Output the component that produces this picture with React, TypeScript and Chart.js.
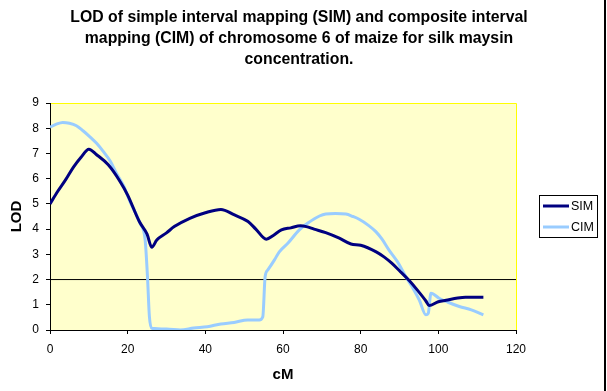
import React, { useEffect, useRef } from "react";
import { Chart, registerables } from "chart.js";

Chart.register(...registerables);

const TITLE_LINES = [
  "LOD of simple interval mapping (SIM) and composite interval",
  "mapping (CIM) of chromosome 6 of maize for silk maysin",
  "concentration.",
];
const X_TITLE = "cM";
const Y_TITLE = "LOD";
const SERIES_NAMES = ["SIM", "CIM"];

const SIM_CM = [0, 2, 4, 6, 8, 10, 12, 15, 18, 20, 23, 25, 26.2, 27.5, 30, 32, 36, 40, 44, 47.5, 51, 53, 55.7, 57.5, 59.6, 62, 64.5, 66, 68, 71, 74.5, 77.5, 80, 84, 86, 88, 90, 92.5, 94.5, 96.8, 97.6, 100, 102, 105, 107, 111.6];
const SIM_LOD = [5.0, 5.5, 5.95, 6.45, 6.85, 7.17, 6.95, 6.55, 5.9, 5.35, 4.3, 3.8, 3.28, 3.57, 3.85, 4.1, 4.43, 4.65, 4.78, 4.56, 4.3, 4.0, 3.6, 3.75, 3.97, 4.05, 4.13, 4.1, 4.0, 3.86, 3.64, 3.41, 3.36, 3.1, 2.9, 2.65, 2.35, 1.96, 1.6, 1.15, 0.97, 1.12, 1.18, 1.27, 1.3, 1.3];

const CIM_CM = [0, 1.5, 3.3, 5, 6.8, 8.5, 10.2, 12, 13.7, 15.5, 17.1, 19, 20.6, 22, 23.2, 24.5, 25.1, 25.6, 26.2, 30, 33.6, 37, 40.5, 44, 47.4, 50.9, 53.9, 54.8, 55.4, 56.1, 57.8, 59.05, 61.3, 64.2, 66.5, 69.4, 71, 73.5, 76.2, 78, 79.6, 82, 83.9, 85.5, 87.3, 89.5, 91.6, 93.5, 95.1, 96.8, 97.4, 98.1, 100.2, 102.5, 105.4, 108.5, 111.6];
const CIM_LOD = [8.04, 8.15, 8.23, 8.2, 8.1, 7.9, 7.67, 7.4, 7.08, 6.7, 6.22, 5.7, 5.09, 4.65, 4.23, 3.57, 2.12, 0.53, 0.07, 0.04, 0.0, 0.08, 0.13, 0.24, 0.3, 0.4, 0.4, 0.53, 2.12, 2.38, 2.78, 3.1, 3.45, 3.97, 4.25, 4.52, 4.6, 4.62, 4.6, 4.5, 4.39, 4.15, 3.9, 3.6, 3.17, 2.7, 2.12, 1.65, 1.19, 0.6, 0.66, 1.46, 1.26, 1.1, 0.93, 0.8, 0.6];

const THRESHOLD_CM = [0, 120];
const THRESHOLD_LOD = [2, 2];

const X_MIN = 0, X_MAX = 120, X_STEP = 20;
const Y_MIN = 0, Y_MAX = 9, Y_STEP = 1;

const SIM_COLOR = "#000080";
const CIM_COLOR = "#99CCFF";
const FONT = "'Liberation Sans', Arial, sans-serif";

const toPoints = (xs: number[], ys: number[]) => xs.map((x, i) => ({ x, y: ys[i] }));

const decorPlugin = {
  id: "decor",
  beforeDraw(chart: any) {
    const { ctx, chartArea: a } = chart;
    ctx.save();
    ctx.fillStyle = "#FFFFCC";
    ctx.fillRect(a.left, a.top, a.right - a.left, a.bottom - a.top);
    ctx.strokeStyle = "#FFFF00";
    ctx.lineWidth = 1;
    ctx.beginPath();
    ctx.moveTo(a.left, a.top + 0.5);
    ctx.lineTo(a.right + 0.5, a.top + 0.5);
    ctx.lineTo(a.right + 0.5, a.bottom);
    ctx.stroke();
    ctx.restore();
  },
  afterDraw(chart: any) {
    const { ctx, chartArea: a } = chart;
    ctx.save();
    ctx.fillStyle = "#000";
    ctx.textAlign = "center";
    ctx.textBaseline = "middle";
    ctx.font = `bold 15.8px ${FONT}`;
    TITLE_LINES.forEach((t, i) => ctx.fillText(t, 299, 18 + i * 21));
    ctx.font = `bold 15px ${FONT}`;
    ctx.fillText(X_TITLE, (a.left + a.right) / 2, 375);
    ctx.save();
    ctx.translate(17, (a.top + a.bottom) / 2);
    ctx.rotate(-Math.PI / 2);
    ctx.fillText(Y_TITLE, 0, 0);
    ctx.restore();

    // legend
    ctx.strokeStyle = "#000";
    ctx.lineWidth = 1;
    ctx.strokeRect(539.5, 195.5, 58, 42);
    const colors = [SIM_COLOR, CIM_COLOR];
    const ys = [206, 227];
    ctx.font = `12.5px ${FONT}`;
    ctx.textAlign = "left";
    SERIES_NAMES.forEach((n, i) => {
      ctx.strokeStyle = colors[i];
      ctx.lineWidth = 3;
      ctx.beginPath();
      ctx.moveTo(543, ys[i]);
      ctx.lineTo(569, ys[i]);
      ctx.stroke();
      ctx.fillStyle = "#000";
      ctx.fillText(n, 571, ys[i] + 1);
    });

    // chart area border (right edge)
    ctx.fillStyle = "#000";
    ctx.fillRect(604, 0, 2, 391);
    ctx.restore();
  },
};

export default function App() {
  const ref = useRef<HTMLCanvasElement>(null);
  useEffect(() => {
    if (!ref.current) return;
    const chart = new Chart(ref.current, {
      type: "line",
      data: {
        datasets: [
          {
            label: SERIES_NAMES[0],
            data: toPoints(SIM_CM, SIM_LOD),
            borderColor: SIM_COLOR,
            borderWidth: 3,
            pointRadius: 0,
            cubicInterpolationMode: "monotone",
            fill: false,
          },
          {
            label: SERIES_NAMES[1],
            data: toPoints(CIM_CM, CIM_LOD),
            borderColor: CIM_COLOR,
            borderWidth: 3,
            pointRadius: 0,
            cubicInterpolationMode: "monotone",
            fill: false,
          },
          {
            label: "threshold",
            data: toPoints(THRESHOLD_CM, THRESHOLD_LOD),
            borderColor: "#000",
            borderWidth: 1,
            pointRadius: 0,
            fill: false,
          },
        ],
      },
      options: {
        responsive: false,
        animation: false,
        events: [],
        layout: { padding: { top: 103, right: 91, left: 0, bottom: 0 } },
        plugins: { legend: { display: false }, title: { display: false }, tooltip: { enabled: false } },
        scales: {
          x: {
            type: "linear",
            min: X_MIN,
            max: X_MAX,
            afterFit: (s: any) => { s.height = 61; },
            ticks: { stepSize: X_STEP, color: "#000", font: { size: 12, family: FONT }, padding: 8, maxRotation: 0 },
            grid: { drawOnChartArea: false, tickLength: 4, color: "#000" },
            border: { color: "#000", width: 1 },
          },
          y: {
            type: "linear",
            min: Y_MIN,
            max: Y_MAX,
            afterFit: (s: any) => { s.width = 50; },
            ticks: { stepSize: Y_STEP, color: "#000", font: { size: 12, family: FONT }, padding: 7 },
            grid: { drawOnChartArea: false, tickLength: 4, color: "#000" },
            border: { color: "#000", width: 1 },
          },
        },
      },
      plugins: [decorPlugin],
    });
    return () => chart.destroy();
  }, []);
  return (
    <canvas
      ref={ref}
      width={607}
      height={391}
      style={{ position: "absolute", left: 0, top: 0, width: 607, height: 391 }}
    />
  );
}
